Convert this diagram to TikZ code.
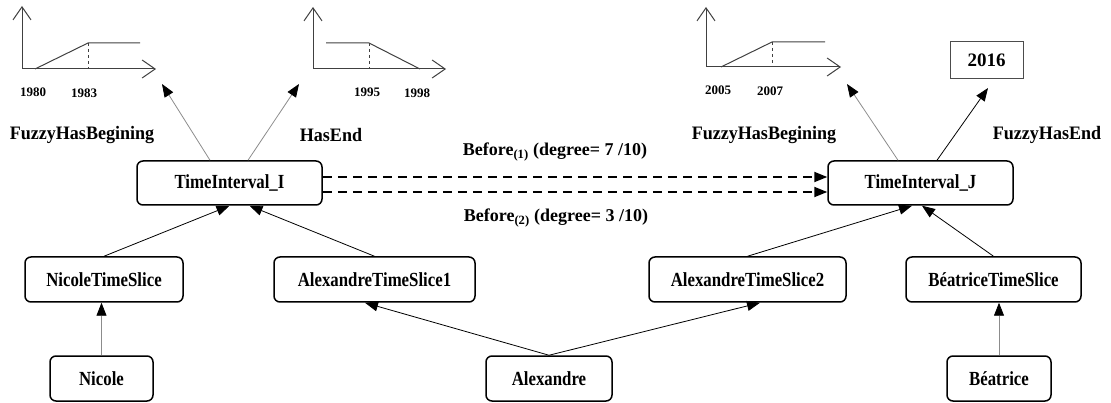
\documentclass[tikz,border=0pt]{standalone}
\usepackage{fontspec}
\setmainfont{Liberation Serif}
\newfontfamily\narrowserif[FakeStretch=0.84]{Liberation Serif}
\newfontfamily\midserif[FakeStretch=0.95]{Liberation Serif}
\usetikzlibrary{arrows.meta,calc}
\begin{document}
\begin{tikzpicture}[x=1pt,y=-1pt,
  box/.style={draw,rounded corners=6pt,line width=1.5pt,inner sep=0pt,
    font=\narrowserif\fontsize{20}{22}\selectfont\bfseries},
  lbl/.style={inner sep=0pt,font=\midserif\fontsize{19}{21}\selectfont\bfseries},
  blbl/.style={inner sep=0pt,font=\fontsize{18}{20}\selectfont\bfseries},
  yr/.style={inner sep=0pt,font=\fontsize{13}{15}\selectfont\bfseries},
  arr/.style={line width=0.8pt,-{Triangle[length=13pt,width=10pt,color=black]}},
  garr/.style={arr,draw=black!45},
  dasharr/.style={line width=1.8pt,dash pattern=on 9pt off 6pt,-{Triangle[length=13pt,width=10pt]}},
  axis/.style={draw=black!75,line width=1pt,-{Straight Barb[length=13pt,width=18pt,line width=1pt]}},
  curve/.style={draw=black!75,line width=1pt},
  dcurve/.style={draw=black!75,line width=1pt,dashed}]
\useasboundingbox (0,0) rectangle (1111,403);
% nodes
\node[box,minimum width=185pt,minimum height=44pt] (ti) at (229.5,183) {TimeInterval\_I};
\node[box,minimum width=185pt,minimum height=44pt] (tj) at (920.5,183) {TimeInterval\_J};
\node[box,minimum width=158pt,minimum height=45pt] (nts) at (104,279.5) {NicoleTimeSlice};
\node[box,minimum width=201pt,minimum height=45pt] (ats1) at (374.5,279.5) {AlexandreTimeSlice1};
\node[box,minimum width=197pt,minimum height=45pt] (ats2) at (747.5,279.5) {AlexandreTimeSlice2};
\node[box,minimum width=175pt,minimum height=45pt] (bts) at (993.5,279.5) {BéatriceTimeSlice};
\node[box,minimum width=103pt,minimum height=45pt] (nic) at (101.5,378.5) {Nicole};
\node[box,minimum width=126pt,minimum height=45pt] (ale) at (549,378.5) {Alexandre};
\node[box,minimum width=104pt,minimum height=45pt] (bea) at (999,378.5) {Béatrice};
\node[draw=black!70,line width=1pt,minimum width=73pt,minimum height=37pt,inner sep=0pt,
  font=\fontsize{19}{21}\selectfont\bfseries] (y2016) at (986.5,60.5) {2016};
% labels
\node[lbl] (l1) at (82,135) {FuzzyHasBegining};
\node[lbl] (l2) at (331,135) {HasEnd};
\node[lbl] (l3) at (764,135) {FuzzyHasBegining};
\node[lbl] (l4) at (1047,135) {FuzzyHasEnd};
\node[blbl] (b1) at (555,152) {Before\textsubscript{(1)} (degree= 7 /10)};
\node[blbl] (b2) at (556,218) {Before\textsubscript{(2)} (degree= 3 /10)};
% years
\node[yr] (y1) at (33,92) {1980};
\node[yr] (y2) at (84,93) {1983};
\node[yr] (y3) at (367,92) {1995};
\node[yr] (y4) at (417,93) {1998};
\node[yr] (y5) at (718,90) {2005};
\node[yr] (y6) at (770,91) {2007};
% graphs
\draw[axis] (22,69) -- (22,6);
\draw[axis] (22,69) -- (156,69);
\draw[curve] (35,69) -- (88,43) -- (140,43);
\draw[dcurve] (88,43) -- (88,69);
\draw[axis] (313,69) -- (313,7);
\draw[axis] (313,69) -- (446,69);
\draw[curve] (326,43) -- (369,43) -- (420,69);
\draw[dcurve] (369,43) -- (369,69);
\draw[axis] (706,67) -- (706,7);
\draw[axis] (706,67) -- (841,67);
\draw[curve] (721,67) -- (772,42) -- (825,42);
\draw[dcurve] (772,42) -- (772,67);
% free ends of upward arrows
\coordinate (e1) at (162,84);
\coordinate (e2) at (299,84);
\coordinate (e3) at (847,84);
\coordinate (e4) at (988,88);
% connectors
\draw[garr] ([xshift=-19.5pt]ti.north) -- (e1);
\draw[garr] ([xshift=18.5pt]ti.north) -- (e2);
\draw[garr] ([xshift=-22.5pt]tj.north) -- (e3);
\draw[arr] ([xshift=16.5pt]tj.north) -- (e4);
\draw[dasharr] (ti.east |- 0,177) -- (tj.west |- 0,177);
\draw[dasharr] (ti.east |- 0,192) -- (tj.west |- 0,192);
\draw[arr] (nts.north) -- (ti.south);
\draw[arr] (ats1.north) -- ([xshift=20pt]ti.south);
\draw[arr] (ats2.north) -- ([xshift=-8.5pt]tj.south);
\draw[arr] (bts.north) -- ([xshift=1.5pt]tj.south);
\draw[garr] (nic.north) -- (nic.north |- nts.south);
\draw[garr] (bea.north) -- (bea.north |- bts.south);
\draw[arr] (ale.north) -- ([xshift=-9.5pt]ats1.south);
\draw[arr] (ale.north) -- ([xshift=12.5pt]ats2.south);
\end{tikzpicture}
\end{document}
